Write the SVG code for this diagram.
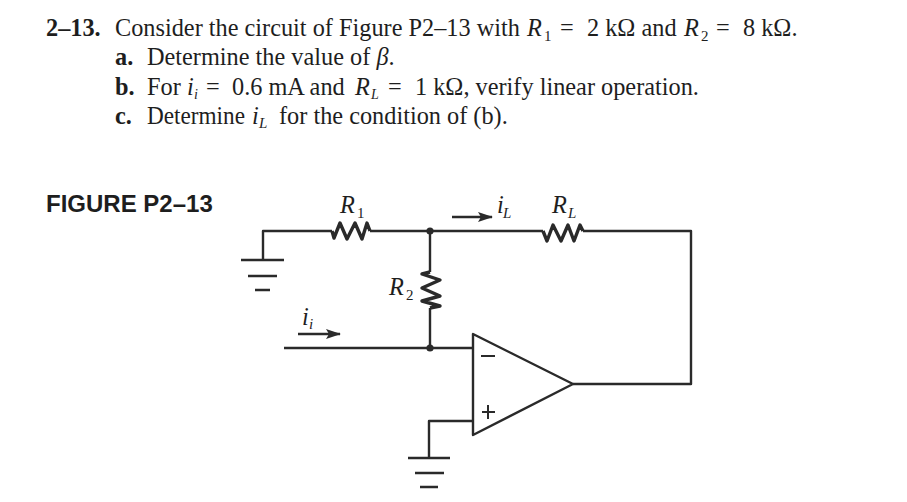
<svg xmlns="http://www.w3.org/2000/svg" width="907" height="502" viewBox="0 0 907 502">
<style>
text{font-family:"Liberation Serif","Times New Roman",serif;font-size:24.3px;fill:#1e1e1e}
.b{font-weight:bold}
.i{font-style:italic}
.s{font-size:15px}
.si{font-size:15px;font-style:italic}
.sl{font-size:14px;font-style:italic}
.fig{font-family:"Liberation Sans",Arial,sans-serif;font-weight:bold;font-size:24px}
.w{fill:none;stroke:#2a2a2a;stroke-width:2.4;stroke-linejoin:round}
.t{fill:none;stroke:#2a2a2a;stroke-width:2}
.r{fill:none;stroke:#2a2a2a;stroke-width:3.4;stroke-linejoin:round}
.d{fill:#2a2a2a}
</style>
<defs>
<marker id="ah" markerWidth="16" markerHeight="10" refX="14" refY="5" orient="auto" markerUnits="userSpaceOnUse"><path d="M0 0L15 5L0 10L3 5Z" fill="#2a2a2a"/></marker>
</defs>
<rect width="907" height="502" fill="#fff"/>
<g id="problem-text">
<text x="46" y="36" class="b">2–13.</text>
<text x="115" y="36">Consider the circuit of Figure P2–13 with</text>
<text x="527" y="36" class="i">R</text><text x="544" y="41" class="s">1</text>
<text x="560" y="36">=</text><text x="587" y="36">2 kΩ and</text>
<text x="684" y="36" class="i">R</text><text x="701" y="41" class="s">2</text>
<text x="716" y="36">=</text><text x="743" y="36">8 kΩ.</text>
<text x="115" y="65" class="b">a.</text>
<text x="147" y="65">Determine the value of <tspan class="i">β</tspan>.</text>
<text x="115" y="95" class="b">b.</text>
<text x="147" y="95">For</text><text x="187" y="95" class="i">i</text><text x="194" y="98.5" class="sl">i</text>
<text x="206" y="95">=</text><text x="232" y="95">0.6 mA and</text>
<text x="355" y="95" class="i">R</text><text x="371" y="98.5" class="sl">L</text>
<text x="388" y="95">=</text><text x="415" y="95">1 kΩ, verify linear operation.</text>
<text x="115" y="123.5" class="b">c.</text>
<text x="147" y="123.5" textLength="98" lengthAdjust="spacingAndGlyphs">Determine</text><text x="252" y="123.5" class="i">i</text><text x="259" y="128" class="si">L</text>
<text x="279" y="123.5">for the condition of (b).</text>
<text x="46" y="212" class="fig">FIGURE P2–13</text>
</g>
<g id="connectors">
<path class="w" d="M263 260V231H332M370 231H543M583 231H691V384H573"/>
<path class="w" d="M430 231V272M430 308V348M284 348H473"/>
<path class="w" d="M473 421H429V458"/>
</g>
<g id="ground-1"><path class="w" d="M241 260H284M248 276H277M255 290H270"/></g>
<g id="ground-2"><path class="w" d="M408 458H450M415 473H444M420 487H438"/></g>
<g id="r1">
<path class="r" d="M332 231L334 238L340 223L347 239L355 223L362 239L367 223L370 231"/>
<text x="340" y="213" class="i">R</text><text x="357" y="218" class="s">1</text>
</g>
<g id="rl">
<path class="r" d="M543 231L547 241L553 225L561 241L568 225L574 241L580 225L583 231"/>
<text x="552" y="213" class="i">R</text><text x="568" y="218" class="si">L</text>
</g>
<g id="r2">
<path class="r" d="M430 272L422 274L440 280L422 288L440 296L422 301L440 306L430 308"/>
<text x="389" y="295" class="i">R</text><text x="406" y="300" class="s">2</text>
</g>
<g id="junction-top"><circle class="d" cx="430" cy="231" r="3.6"/></g>
<g id="junction-input"><circle class="d" cx="430" cy="348" r="3.6"/></g>
<g id="opamp">
<path class="w" d="M473 334V435L573 384Z"/>
<path class="t" d="M481 356H495M488 405V419M482 412H495"/>
</g>
<g id="current-il">
<path class="w" d="M452 217H492" marker-end="url(#ah)"/>
<text x="497" y="213" class="i">i</text><text x="503" y="218" class="si">L</text>
</g>
<g id="current-ii">
<path class="w" d="M298 334H340" marker-end="url(#ah)"/>
<text x="302" y="325" class="i">i</text><text x="309" y="329" class="si">i</text>
</g>
</svg>
